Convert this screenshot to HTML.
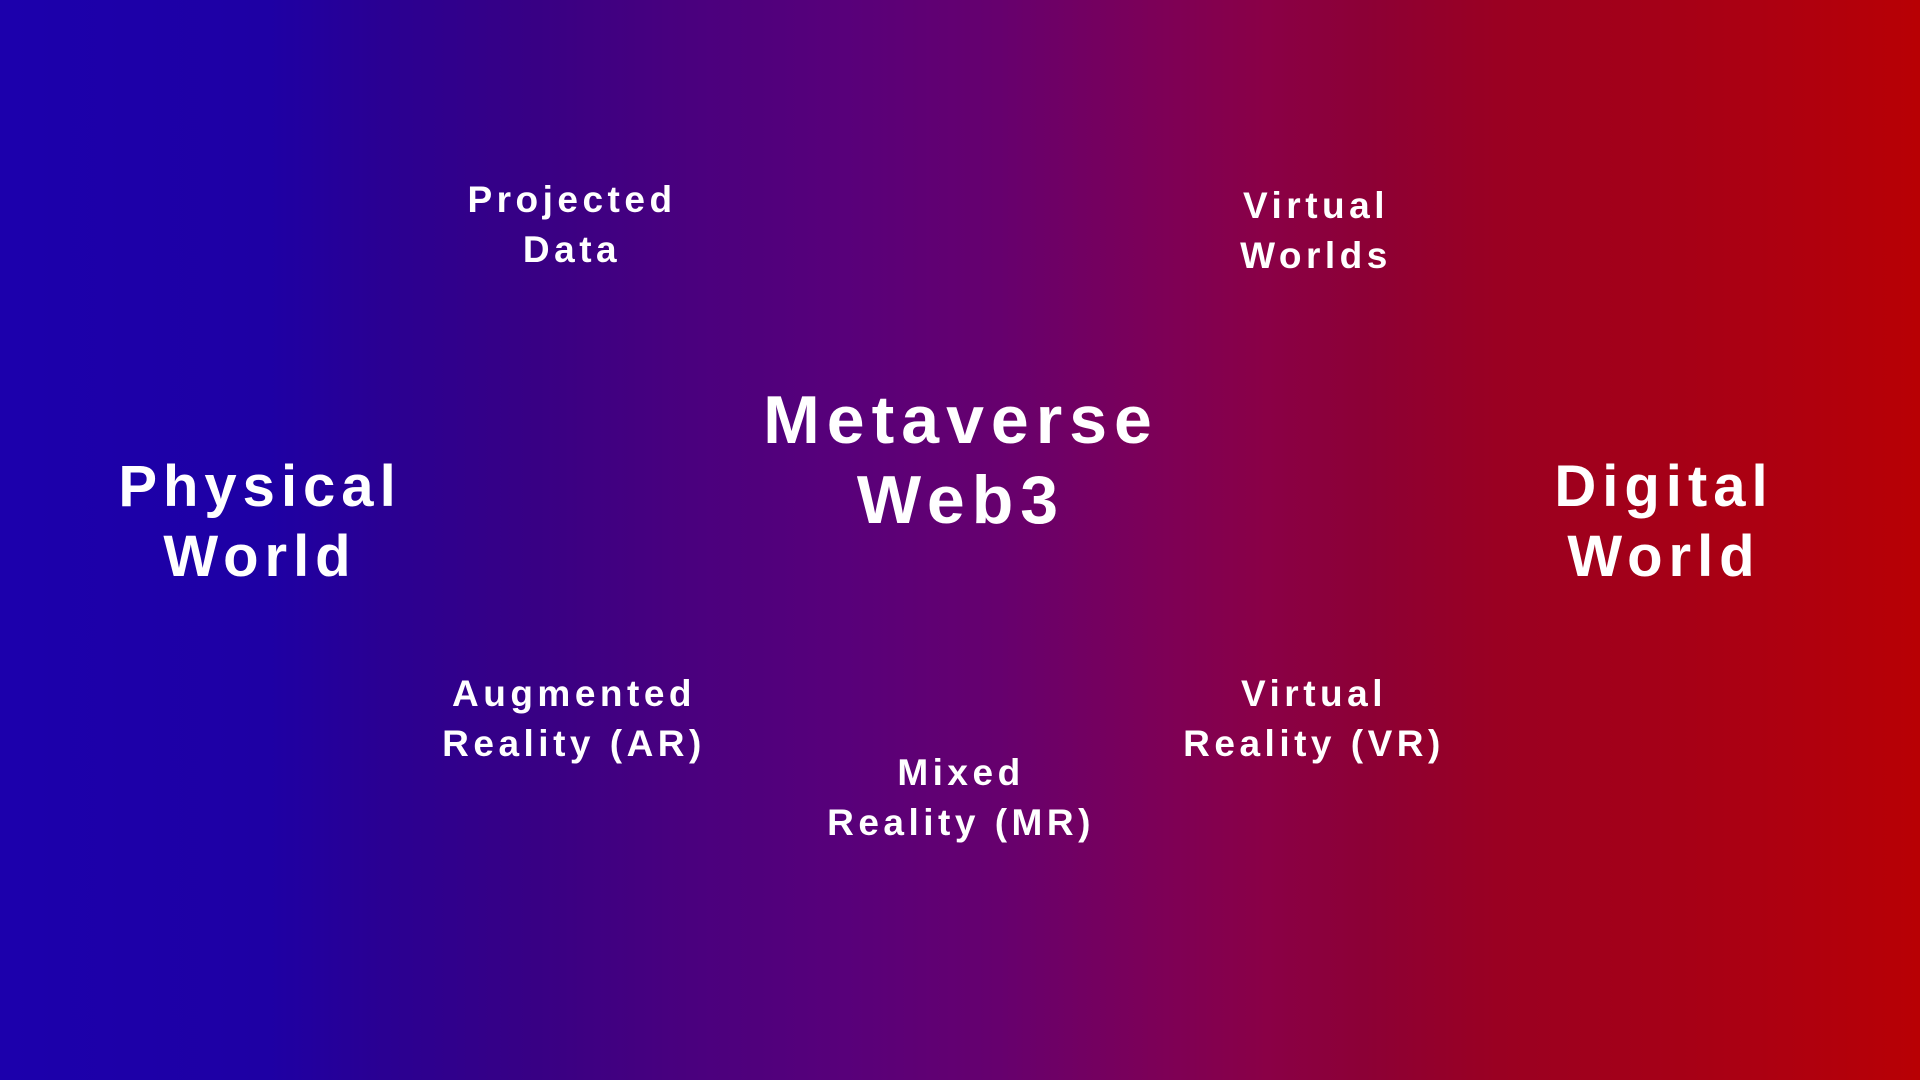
<!DOCTYPE html>
<html><head><meta charset="utf-8"><style>
html,body{margin:0;padding:0}
body{width:1920px;height:1080px;overflow:hidden;position:relative;
background:linear-gradient(90deg,#1c00ac 0%,#1e00a4 14%,#2a0092 20%,#380084 28%,#4a007e 36%,#58007a 44%,#66006e 52%,#7c0058 60%,#8a0046 66%,#8c0036 71%,#9a0022 78%,#a40018 86%,#ae0010 93%,#b80004 100%);
font-family:"Liberation Sans",sans-serif;color:#fff;font-weight:bold}
.t{position:absolute;transform:translate(-50%,-50%);text-align:center;white-space:nowrap}
.s{font-size:37px;letter-spacing:4.5px;line-height:50px}
.m{font-size:58px;letter-spacing:6px;line-height:70px}
.b{font-size:68px;letter-spacing:7px;line-height:80px}
</style></head><body>
<div class="t s" style="left:572px;top:225px">Projected<br>Data</div>
<div class="t s" style="left:1316px;top:231px">Virtual<br>Worlds</div>
<div class="t b" style="left:961px;top:460px">Metaverse<br>Web3</div>
<div class="t m" style="left:260px;top:522px">Physical<br>World</div>
<div class="t m" style="left:1664px;top:522px">Digital<br>World</div>
<div class="t s" style="left:574px;top:719px">Augmented<br>Reality (AR)</div>
<div class="t s" style="left:1314px;top:719px">Virtual<br>Reality (VR)</div>
<div class="t s" style="left:961px;top:798px">Mixed<br>Reality (MR)</div>
</body></html>
